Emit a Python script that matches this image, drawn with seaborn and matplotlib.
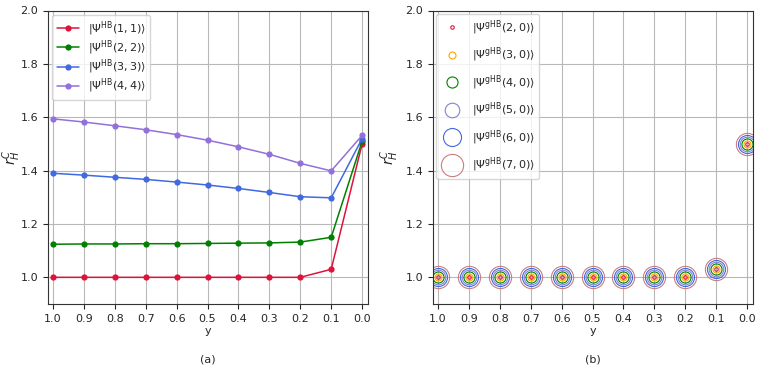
import numpy as np
import pandas as pd
import matplotlib
matplotlib.use("Agg")
import matplotlib.pyplot as plt
import seaborn as sns

sns.set_style("ticks")
plt.rcParams["font.family"] = ["DejaVu Sans"]
plt.rcParams["font.size"] = 8
plt.rcParams["mathtext.fontset"] = "dejavusans"

# x values (y parameter)
y_vals = [1.0, 0.9, 0.8, 0.7, 0.6, 0.5, 0.4, 0.3, 0.2, 0.1, 0.0]

# panel (a)
hb_11 = [1.000, 1.000, 1.000, 1.000, 1.000, 1.000, 1.000, 1.000, 1.000, 1.030, 1.500]
hb_22 = [1.124, 1.125, 1.125, 1.126, 1.126, 1.127, 1.128, 1.129, 1.132, 1.150, 1.510]
hb_33 = [1.390, 1.383, 1.375, 1.367, 1.357, 1.346, 1.333, 1.318, 1.302, 1.298, 1.520]
hb_44 = [1.594, 1.582, 1.568, 1.553, 1.535, 1.514, 1.489, 1.461, 1.427, 1.399, 1.532]
labels_a = [r"$|\Psi^{\mathrm{HB}}(1,1)\rangle$", r"$|\Psi^{\mathrm{HB}}(2,2)\rangle$",
            r"$|\Psi^{\mathrm{HB}}(3,3)\rangle$", r"$|\Psi^{\mathrm{HB}}(4,4)\rangle$"]
colors_a = ["crimson", "green", "royalblue", "mediumpurple"]

# panel (b)
ghb_vals = [1.0, 1.0, 1.0, 1.0, 1.0, 1.0, 1.0, 1.0, 1.0, 1.03, 1.5]
labels_b = [r"$|\Psi^{\mathrm{gHB}}(%d,0)\rangle$" % n for n in [2, 3, 4, 5, 6, 7]]
colors_b = ["crimson", "orange", "green", "#8282d2", "royalblue", "#c97f7f"]
sizes_b = [2.5, 5, 8, 10.5, 13, 16]

fig = plt.figure(figsize=(7.62, 3.74), dpi=100)
ax1 = fig.add_axes([48 / 762, 1 - 304 / 374, 320 / 762, 293.5 / 374])
ax2 = fig.add_axes([433 / 762, 1 - 304 / 374, 320 / 762, 293.5 / 374])

for vals, lab, col in zip([hb_11, hb_22, hb_33, hb_44], labels_a, colors_a):
    df = pd.DataFrame({"y": y_vals, "r": vals})
    sns.lineplot(data=df, x="y", y="r", ax=ax1, color=col, marker="o",
                 markersize=4.5, markeredgewidth=0, linewidth=1.1, label=lab)

for lab, col, ms in zip(labels_b, colors_b, sizes_b):
    df = pd.DataFrame({"y": y_vals, "r": ghb_vals})
    sns.lineplot(data=df, x="y", y="r", ax=ax2, color=col, marker="o",
                 markersize=ms, markerfacecolor="none", markeredgecolor=col,
                 markeredgewidth=0.8, linestyle="none", label=lab)

for ax, cap, lx in zip([ax1, ax2], ["(a)", "(b)"], [-0.078, -0.1]):
    ax.set_xlim(1.016, -0.019)
    ax.set_ylim(0.9, 2.0)
    ax.set_xticks(np.arange(0, 1.01, 0.1))
    ax.set_xticklabels([f"{v:.1f}" for v in np.arange(0, 1.01, 0.1)])
    ax.set_yticks([1.0, 1.2, 1.4, 1.6, 1.8, 2.0])
    ax.grid(True, color="#b8b8b8", linewidth=0.8)
    ax.set_axisbelow(True)
    ax.tick_params(labelsize=8)
    ax.set_xlabel("y", fontsize=8, labelpad=2)
    ax.set_ylabel(r"$r_H^C$", fontsize=10)
    ax.yaxis.set_label_coords(lx, 0.5)
    for sp in ax.spines.values():
        sp.set_color("#333333")
    pos = ax.get_position()
    fig.text(pos.x0 + pos.width / 2, 1 - 360 / 374, cap, ha="center", va="center", fontsize=8)

ax1.legend(loc="upper left", fontsize=8, framealpha=0.8, labelspacing=0.05,
           borderaxespad=0.4)
ax2.legend(loc="upper left", fontsize=8, framealpha=0.8, labelspacing=0.8,
           borderaxespad=0.3)

fig.savefig("out.png", dpi=100)
